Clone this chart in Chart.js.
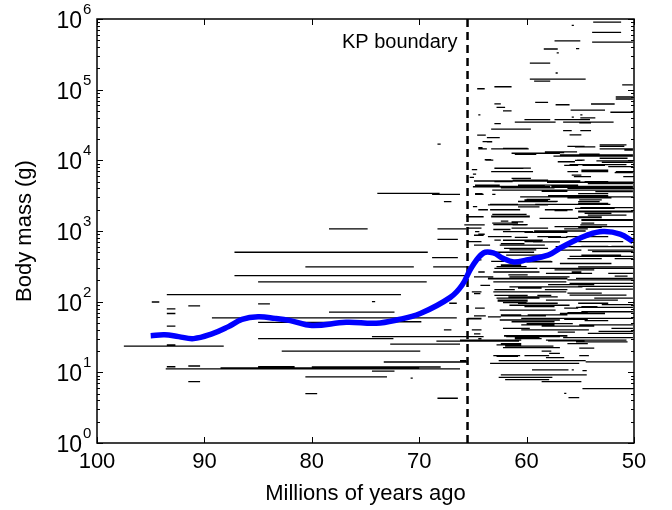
<!DOCTYPE html>
<html>
<head>
<meta charset="utf-8">
<script src="https://cdn.jsdelivr.net/npm/chart.js@4.4.1/dist/chart.umd.min.js"></script>
<style>
  html, body { margin: 0; padding: 0; background: #fff; }
  #wrap { width: 672px; height: 510px; }
</style>
</head>
<body>
<div id="wrap"><canvas id="massChart" width="672" height="510"></canvas></div>
<script>
// axis ticks
const xTicks = [100, 90, 80, 70, 60, 50];
const yExponents = [0, 1, 2, 3, 4, 5, 6];
const kpAge = 65.5;

// mean body mass (g) through time
const trendAge  = [95.0, 93.7, 92.4, 91.0, 89.3, 87.8, 86.5, 85.0, 83.4, 82.0, 80.0, 76.8, 74.0, 72.1, 69.9, 67.1, 66.0, 65.1, 64.0, 63.1, 62.2, 61.2, 60.0, 58.0, 56.9, 55.7, 54.4, 52.9, 51.3, 50.1];
const trendMass = [33, 34, 32, 30, 35, 44, 56, 61, 58, 54, 46, 51, 49.5, 55, 68, 115, 172, 310, 490, 490, 410, 365, 390, 455, 570, 710, 870, 980, 905, 710];

// species ranges before the boundary: [first Ma, last Ma, mass g]
const preKpRanges = [
  [73.9,68.1,3400],[68.8,66.2,3300],[67.7,67.0,2600],[78.4,74.8,1070],[68.3,65.6,1070],
  [68.3,66.4,760],[87.2,69.2,500],[68.8,66.4,420],[80.6,70.5,310],[68.7,65.5,310],
  [87.2,65.6,233],[85.0,69.3,190],[93.5,71.7,126],[74.4,74.1,100],[67.2,66.5,95],
  [78.4,72.3,71],[89.3,66.5,59],[76.4,69.8,52],[85.0,76.0,51],[67.7,67.0,40],
  [74.4,64.0,32],[85.0,72.4,30],[68.4,60.7,27.7],[72.7,66.2,25],[82.8,69.9,20],
  [73.3,65.5,14],[93.6,66.2,11.2],[88.5,70.0,11.6],[80.0,68.0,11.9],[93.5,92.7,12],
  [91.5,90.4,12.3],[85.0,81.6,12],[74.4,72.3,10.4],[80.6,73.0,8.6],[70.8,70.6,8.3],
  [80.6,79.5,5.0],[68.3,66.4,4.3],[94.9,94.2,99],[93.5,92.7,79],[93.5,92.7,68],
  [91.5,90.4,87],[93.5,92.7,45],[85.0,83.9,93],[97.5,88.2,23.5],[93.5,92.7,24.5],
  [91.5,90.4,7.4],[68.3,68.0,17000]
];

// species ranges after the boundary, large and small bodied
const postKpRanges = [
  [53.8,51.2,906000],[55.8,55.6,813000],[53.9,51.2,646000],[57.4,55.0,490000],[53.9,50.1,472000],
  [58.4,57.1,376000],[55.4,55.1,380000],[57.2,57.0,331000],[59.7,57.8,238000],[57.3,57.1,172000],
  [59.7,54.5,141000],[59.3,57.8,132000],[51.1,50.1,117000],[64.6,63.9,103000],[63.0,61.4,110000],
  [51.7,50.1,78700],[51.7,50.1,73800],[59.2,58.0,66100],[63.0,62.4,63100],[54.0,51.8,62700],
  [57.3,56.0,61200],[62.8,62.0,56200],[62.2,61.4,50100],[55.9,52.7,51300],[52.2,50.1,47900],
  [55.0,53.6,39800],[60.2,57.8,37600],[57.4,54.1,37600],[61.1,57.3,34700],[56.6,51.9,34700],
  [63.0,62.4,33100],[55.1,54.0,33900],[64.5,64.3,44000],[55.0,54.8,44000],[55.8,55.6,41000],
  [63.3,59.6,27700],[56.6,55.8,26300],[55.0,54.0,26300],[64.6,63.8,22800],[63.7,62.5,20900],
  [56.0,54.9,22900],[63.7,63.2,18200],[53.2,50.7,16500],[55.5,53.6,15500],[64.5,63.7,14500],
  [63.3,59.8,14500],[53.2,50.1,14500],[58.3,55.3,13200],[61.4,56.9,12600],[56.9,50.1,11900],
  [63.8,63.1,10100],[55.3,54.6,10100],[53.5,50.1,9800],[56.0,50.7,8700],[63.0,60.3,7700],
  [65.1,64.6,7400],[63.3,59.8,6900],[54.9,52.4,6900],[51.7,50.1,6900],[65.3,64.9,5750],
  [55.6,54.0,5900],[64.9,60.5,5100],[60.0,55.0,5100],[58.1,50.1,4900],[64.8,62.5,4470],
  [65.0,57.8,4230],[57.6,50.1,4230],[56.2,50.1,4000],[63.2,58.2,3800],[53.6,50.1,3600],
  [64.8,64.0,3300],[63.2,62.9,3300],[60.6,50.1,3050],[60.0,57.8,2800],[60.8,57.2,2600],
  [55.2,53.2,2600],[63.4,60.8,2380],[59.2,52.2,2380],[65.0,64.6,2210],[55.0,50.1,2140],
  [63.4,60.6,2000],[58.3,55.7,2000],[54.4,52.5,1860],[63.2,60.0,1720],[54.3,50.7,1680],
  [65.6,64.0,1590],[58.8,55.2,1510],[53.6,50.1,1430],[63.2,60.8,1290],[65.8,63.9,1220],
  [61.3,60.0,1220],[55.0,52.5,1220],[56.9,50.1,1150],[63.1,61.5,1050],[58.6,54.5,1000],
  [64.8,64.4,980],[62.2,59.4,977],[64.9,64.0,870],[56.3,52.4,830],[62.2,58.5,740],
  [59.4,56.9,700],[64.9,63.4,630],[62.5,58.3,630],[57.3,50.1,600],[61.6,59.1,540],
  [53.9,50.1,510],[61.9,57.6,457],[56.0,50.1,437],[64.9,64.3,390],[60.0,57.6,367],
  [56.9,52.1,347],[62.8,60.0,313],[58.8,50.1,295],[63.1,58.8,263],[58.2,53.9,251],
  [64.9,63.1,225],[61.6,56.0,225],[55.4,50.1,214],[63.1,56.3,190],[56.0,50.1,182],
  [64.3,63.4,170],[61.6,54.8,162],[54.5,50.1,150],[63.1,56.3,138],[64.9,64.3,130],
  [56.0,50.7,124],[62.8,58.8,112],[58.2,51.5,105],[62.2,60.0,97],[61.6,56.0,89],
  [55.4,50.1,83],[62.5,57.3,76],[56.9,52.7,68],[64.9,63.8,63],[62.2,58.2,63],
  [58.2,50.1,58],[62.5,56.9,55],[60.0,55.7,49],[55.1,50.1,47],[62.2,59.7,42],
  [58.2,54.2,40],[53.3,50.1,38],[64.9,64.3,35],[61.9,56.9,32],[56.6,50.1,31],
  [61.1,58.8,31],[66.2,60.5,28.6],[58.2,50.7,28.6],[55.4,52.7,27],[62.8,60.5,24.4],
  [62.2,56.9,22.4],[62.0,57.5,23.5],[55.1,53.7,22],[58.6,57.7,20],[57.9,56.9,18.5],
  [63.1,60.6,17.2],[62.8,60.8,16.8],[60.2,57.9,17.2],[55.1,54.2,17.2],[58.2,56.5,16.1],
  [66.2,65.6,14.6],[62.6,54.5,14.6],[54.5,50.1,14.1],[63.4,55.1,13.4],[59.5,56.1,10.8],
  [55.8,55.6,10.8],[54.8,54.4,10.6],[62.4,54.4,9.2],[62.6,57.6,8.5],[62.0,57.9,7.9],
  [58.6,54.9,7.4],[54.8,50.1,5.9],[56.5,56.3,5.05],[56.1,55.1,4.4]
];

// dense middle band after the boundary (roughly 25 g to 20 kg)
const postKpRangesMid = [
  [64.1,63.2,18400],[56.2,54.6,15800],[53.2,50.9,15800],[64.5,64.1,15100],[62.2,59.9,14800],
  [50.9,50.1,14000],[57.9,56.5,12900],[61.1,59.1,12200],[55.1,53.2,12200],[57.5,50.1,11500],
  [53.2,50.6,10700],[63.9,63.3,10200],[55.5,54.8,10000],[57.1,55.5,9550],[53.0,50.1,9330],
  [56.5,55.2,8510],[54.8,52.7,8500],[52.4,50.1,8130],[63.0,59.6,7760],[54.9,52.4,7240],
  [54.9,52.4,7000],[63.3,59.4,6920],[56.2,55.2,6920],[51.8,50.1,6700],[65.0,64.7,6400],
  [55.8,54.9,6170],[51.0,50.1,5890],[61.4,59.6,5560],[61.3,58.0,5250],[61.3,58.0,5100],
  [63.0,61.3,5010],[54.6,52.4,5010],[54.3,50.1,4680],[60.8,55.2,4470],[64.8,58.3,4270],
  [57.7,50.1,4270],[57.7,50.1,4150],[62.4,57.4,4070],[60.5,55.5,3800],[55.5,50.1,3800],
  [58.6,56.2,3630],[64.8,64.1,3390],[55.2,52.4,3390],[58.0,52.4,3160],[56.2,52.1,2950],
  [60.2,58.0,2750],[60.2,58.0,2700],[55.1,53.0,2750],[60.8,57.1,2630],[55.2,52.4,2450],
  [55.2,52.4,2400],[63.6,58.0,2340],[60.8,58.8,2190],[55.5,51.8,2090],[64.5,63.6,2000],
  [62.4,60.7,2000],[57.4,56.2,1950],[55.2,50.1,1910],[55.2,50.1,1860],[54.6,52.1,1780],
  [63.3,59.7,1620],[63.3,59.7,1580],[55.2,53.0,1580],[55.2,53.0,1550],[54.9,50.1,1450],
  [54.9,50.1,1420],[62.4,61.7,1380],[61.4,60.3,1350],[54.9,53.7,1290],[63.1,59.9,1230],
  [57.4,55.2,1150],[55.2,53.0,1130],[65.5,64.2,1100],[61.4,58.0,1100],[56.5,54.3,1070],
  [59.3,57.4,1000],[60.2,56.2,955],[54.3,52.4,930],[64.5,63.9,900],[63.6,61.4,832],
  [59.0,56.8,832],[61.1,59.9,810],[58.0,56.2,810],[63.0,62.4,741],[65.5,64.2,708],
  [60.2,58.6,708],[55.2,51.0,708],[62.4,60.2,661],[54.9,52.4,603],[52.1,50.1,603],
  [62.1,58.0,569],[57.4,54.9,537],[54.3,50.1,537],[63.0,59.3,500],[54.9,51.2,457],
  [56.2,53.0,407],[51.8,50.1,407],[64.8,64.2,390],[63.3,62.1,372],[60.8,57.7,372],
  [55.2,53.0,347],[62.4,60.5,331],[62.4,60.5,320],[55.2,50.1,310],[63.0,59.0,295],
  [57.4,53.7,282],[64.5,63.9,263],[55.8,54.9,263],[52.4,50.1,251],[61.7,59.9,240],
  [51.8,50.6,230],[63.6,56.2,214],[63.6,56.2,210],[56.2,50.1,204],[63.0,61.4,191],
  [59.6,56.5,191],[54.6,51.8,182],[58.0,53.7,174],[55.2,50.1,165],[60.8,58.6,155],
  [63.0,61.1,148],[58.3,56.2,148],[65.1,64.2,138],[56.2,53.0,132],[63.0,59.9,123],
  [59.0,57.7,123],[61.7,57.1,117],[53.7,50.1,112],[62.7,59.9,105],[62.7,59.9,102],
  [56.5,55.2,105],[60.8,57.1,95],[55.2,52.4,95],[53.0,50.1,91],[60.2,57.4,85],
  [54.9,53.4,85],[64.8,63.9,81],[56.5,55.2,81],[62.4,60.2,76],[54.9,50.1,72],
  [56.2,54.3,70],[62.4,60.5,65],[62.4,60.5,63],[59.9,56.2,65],[63.6,62.4,61],
  [65.5,64.2,58],[65.5,64.2,57],[60.5,57.1,58],[56.5,54.3,56],[54.6,52.4,54],
  [61.4,57.4,52],[60.5,57.4,47],[52.9,50.1,47],[58.6,53.7,45],[52.1,50.1,42],
  [65.1,64.2,40],[60.5,58.0,40],[57.1,55.5,37],[54.3,50.1,35.5],[62.1,56.2,33],
  [62.1,56.2,32.5],[55.2,52.4,31],[64.5,64.2,30],[61.1,58.6,30],[58.0,54.6,28],
  [53.7,50.6,27],[62.4,60.5,25.5],[56.2,54.3,25.5]
];

// flatten ranges into one line dataset with gaps between them
const rangePoints = [];
preKpRanges.concat(postKpRanges, postKpRangesMid).forEach(r => {
  rangePoints.push({x: r[0], y: r[2]}, {x: r[1], y: r[2]}, {x: r[1], y: null});
});

const FONT = '"Liberation Sans", Arial, Helvetica, sans-serif';

// matlab-like box, inward ticks, labels
const axesPlugin = {
  id: 'matlabAxes',
  afterDatasetsDraw(chart) {
    const {ctx, chartArea: a, scales: {x, y}} = chart;
    const line = (x1, y1, x2, y2) => { ctx.beginPath(); ctx.moveTo(x1, y1); ctx.lineTo(x2, y2); ctx.stroke(); };
    ctx.save();
    ctx.strokeStyle = '#000';
    ctx.fillStyle = '#000';
    ctx.lineWidth = 1;

    xTicks.forEach(v => {
      const px = Math.round(x.getPixelForValue(v)) + 0.5;
      line(px, a.bottom, px, a.bottom - 6);
      line(px, a.top, px, a.top + 6);
    });
    yExponents.forEach(e => {
      const py = Math.round(y.getPixelForValue(Math.pow(10, e))) + 0.5;
      line(a.left, py, a.left + 6, py);
      line(a.right, py, a.right - 6, py);
      if (e < 6) {
        for (let k = 2; k <= 9; k++) {
          const pm = Math.round(y.getPixelForValue(k * Math.pow(10, e))) + 0.5;
          line(a.left, pm, a.left + 3, pm);
          line(a.right, pm, a.right - 3, pm);
        }
      }
    });

    ctx.lineWidth = 1.5;
    ctx.strokeRect(a.left, a.top, a.right - a.left, a.bottom - a.top);

    // x tick labels
    ctx.font = '22px ' + FONT;
    ctx.textAlign = 'center';
    ctx.textBaseline = 'alphabetic';
    xTicks.forEach(v => ctx.fillText(String(v), x.getPixelForValue(v), a.bottom + 25));

    // y tick labels 10^n
    yExponents.forEach(e => {
      const py = y.getPixelForValue(Math.pow(10, e));
      ctx.font = '23px ' + FONT;
      ctx.textAlign = 'right';
      ctx.fillText('10', a.left - 15, py + 9);
      ctx.font = '15px ' + FONT;
      ctx.textAlign = 'left';
      ctx.fillText(String(e), a.left - 14, py - 5);
    });

    // axis titles
    ctx.font = '22px ' + FONT;
    ctx.textAlign = 'center';
    ctx.fillText('Millions of years ago', (a.left + a.right) / 2, 500);
    ctx.save();
    ctx.translate(31, (a.top + a.bottom) / 2);
    ctx.rotate(-Math.PI / 2);
    ctx.fillText('Body mass (g)', 0, 0);
    ctx.restore();

    // boundary label
    ctx.font = '20px ' + FONT;
    ctx.textAlign = 'right';
    ctx.fillText('KP boundary', x.getPixelForValue(kpAge) - 10, a.top + 29);
    ctx.restore();
  }
};

new Chart(document.getElementById('massChart'), {
  type: 'line',
  data: {
    datasets: [
      {
        label: 'Mean body mass',
        data: trendAge.map((t, i) => ({x: t, y: trendMass[i]})),
        borderColor: 'rgb(0,0,255)',
        borderWidth: 5.5,
        tension: 0.4,
        pointRadius: 0,
        borderCapStyle: 'butt'
      },
      {
        label: 'KP boundary',
        data: [{x: kpAge, y: 1}, {x: kpAge, y: 1e6}],
        borderColor: '#000',
        borderWidth: 2.5,
        borderDash: [8, 5],
        pointRadius: 0
      },
      {
        label: 'Species ranges',
        data: rangePoints,
        borderColor: '#000',
        borderWidth: 1.3,
        pointRadius: 0,
        spanGaps: false,
        tension: 0
      }
    ]
  },
  options: {
    responsive: false,
    animation: false,
    layout: { padding: { left: 97, top: 19, right: 38, bottom: 67 } },
    plugins: { legend: { display: false }, tooltip: { enabled: false } },
    scales: {
      x: { type: 'linear', reverse: true, min: 50, max: 100, display: false },
      y: { type: 'logarithmic', min: 1, max: 1e6, display: false }
    }
  },
  plugins: [axesPlugin]
});
</script>
</body>
</html>
